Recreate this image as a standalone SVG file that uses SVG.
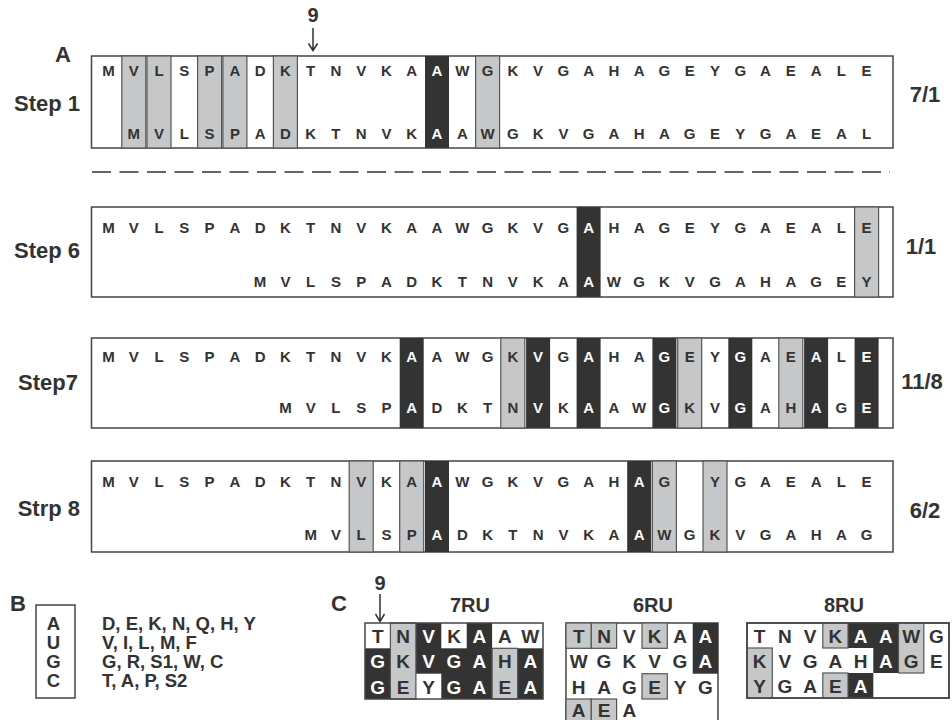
<svg xmlns="http://www.w3.org/2000/svg" width="952" height="720" viewBox="0 0 952 720">
<style>
text{font-family:"Liberation Sans",Arial,sans-serif;font-weight:bold;fill:#333}
.seq{font-size:15px;text-anchor:middle}
.w{fill:#fff}
.box{fill:#fff;stroke:#444;stroke-width:1.5}
.frame{fill:none;stroke:#444;stroke-width:1.5}
.g{fill:#c6c7c8;stroke:#555;stroke-width:1.2}
.k{fill:#333}
.lbl{font-size:22px}
.ratio{font-size:22px;text-anchor:middle}
.cell{font-size:19px;text-anchor:middle}
.ttl{font-size:20px;text-anchor:middle}
.leg{font-size:18.5px}
.arr{fill:none;stroke:#333;stroke-width:1.5}
</style>
<rect width="952" height="720" fill="#fff"/>

<text class="lbl" x="55" y="62" font-size="21">A</text>

<g id="connectors">
<path class="arr" d="M313,28 V50 M308.5,43.5 L313,50.5 L317.5,43.5"/>
<path class="arr" d="M380,594 V621 M375.5,614 L380,621.5 L384.5,614"/>
<line x1="92" y1="172" x2="890" y2="172" stroke="#333" stroke-width="1.5" stroke-dasharray="19 8.5"/>
</g>
<text class="ttl" x="313" y="22" font-size="18">9</text>
<text class="ttl" x="380" y="590" font-size="18">9</text>

<g id="step1">
<rect class="box" x="91.5" y="56" width="801.5" height="92"/>
<rect class="g" x="121.8" y="56" width="24" height="92"/>
<rect class="g" x="147" y="56" width="24" height="92"/>
<rect class="g" x="197.6" y="56" width="24" height="92"/>
<rect class="g" x="222.9" y="56" width="24" height="92"/>
<rect class="g" x="273.4" y="56" width="24" height="92"/>
<rect class="g" x="475.6" y="56" width="24" height="92"/>
<rect class="k" x="425" y="56" width="24" height="92"/>
<text class="seq" y="76"><tspan x="108.5 133.8 159 184.3 209.6 234.9 260.1 285.4 310.7 335.9 361.2 386.5 411.7">MVLSPADKTNVKA</tspan><tspan class="w" x="437">A</tspan><tspan x="462.3 487.6 512.8 538.1 563.4 588.6 613.9 639.2 664.4 689.7 715 740.3 765.5 790.8 816.1 841.3 866.6">WGKVGAHAGEYGAEALE</tspan></text>
<text class="seq" y="139"><tspan x="133.8 159 184.3 209.6 234.9 260.1 285.4 310.7 335.9 361.2 386.5 411.7">MVLSPADKTNVK</tspan><tspan class="w" x="437">A</tspan><tspan x="462.3 487.6 512.8 538.1 563.4 588.6 613.9 639.2 664.4 689.7 715 740.3 765.5 790.8 816.1 841.3 866.6">AWGKVGAHAGEYGAEAL</tspan></text>
<text class="lbl" x="80" y="111" text-anchor="end">Step 1</text>
<text class="ratio" x="925" y="102">7/1</text>
</g>

<g id="step6">
<rect class="box" x="91.5" y="207" width="801.5" height="90"/>
<rect class="k" x="576.6" y="207" width="24" height="90"/>
<rect class="g" x="854.6" y="207" width="24" height="90"/>
<text class="seq" y="233"><tspan x="108.5 133.8 159 184.3 209.6 234.9 260.1 285.4 310.7 335.9 361.2 386.5 411.7 437 462.3 487.6 512.8 538.1 563.4">MVLSPADKTNVKAAWGKVG</tspan><tspan class="w" x="588.6">A</tspan><tspan x="613.9 639.2 664.4 689.7 715 740.3 765.5 790.8 816.1 841.3 866.6">HAGEYGAEALE</tspan></text>
<text class="seq" y="287"><tspan x="260.1 285.4 310.7 335.9 361.2 386.5 411.7 437 462.3 487.6 512.8 538.1 563.4">MVLSPADKTNVKA</tspan><tspan class="w" x="588.6">A</tspan><tspan x="613.9 639.2 664.4 689.7 715 740.3 765.5 790.8 816.1 841.3 866.6">WGKVGAHAGEY</tspan></text>
<text class="lbl" x="80" y="258" text-anchor="end">Step 6</text>
<text class="ratio" x="921" y="254">1/1</text>
</g>

<g id="step7">
<rect class="box" x="91.5" y="338" width="801.5" height="90"/>
<rect class="k" x="399.7" y="338" width="24" height="90"/>
<rect class="g" x="500.8" y="338" width="24" height="90"/>
<rect class="k" x="526.1" y="338" width="24" height="90"/>
<rect class="k" x="576.6" y="338" width="24" height="90"/>
<rect class="k" x="652.4" y="338" width="24" height="90"/>
<rect class="g" x="677.7" y="338" width="24" height="90"/>
<rect class="k" x="728.3" y="338" width="24" height="90"/>
<rect class="g" x="778.8" y="338" width="24" height="90"/>
<rect class="k" x="804.1" y="338" width="24" height="90"/>
<rect class="k" x="854.6" y="338" width="24" height="90"/>
<text class="seq" y="361.5"><tspan x="108.5 133.8 159 184.3 209.6 234.9 260.1 285.4 310.7 335.9 361.2 386.5">MVLSPADKTNVK</tspan><tspan class="w" x="411.7">A</tspan><tspan x="437 462.3 487.6 512.8">AWGK</tspan><tspan class="w" x="538.1">V</tspan><tspan x="563.4">G</tspan><tspan class="w" x="588.6">A</tspan><tspan x="613.9 639.2">HA</tspan><tspan class="w" x="664.4">G</tspan><tspan x="689.7 715">EY</tspan><tspan class="w" x="740.3">G</tspan><tspan x="765.5 790.8">AE</tspan><tspan class="w" x="816.1">A</tspan><tspan x="841.3">L</tspan><tspan class="w" x="866.6">E</tspan></text>
<text class="seq" y="412.5"><tspan x="285.4 310.7 335.9 361.2 386.5">MVLSP</tspan><tspan class="w" x="411.7">A</tspan><tspan x="437 462.3 487.6 512.8">DKTN</tspan><tspan class="w" x="538.1">V</tspan><tspan x="563.4">K</tspan><tspan class="w" x="588.6">A</tspan><tspan x="613.9 639.2">AW</tspan><tspan class="w" x="664.4">G</tspan><tspan x="689.7 715">KV</tspan><tspan class="w" x="740.3">G</tspan><tspan x="765.5 790.8">AH</tspan><tspan class="w" x="816.1">A</tspan><tspan x="841.3">G</tspan><tspan class="w" x="866.6">E</tspan></text>
<text class="lbl" x="78" y="390" text-anchor="end">Step7</text>
<text class="ratio" x="922" y="389">11/8</text>
</g>

<g id="step8">
<rect class="box" x="91.5" y="461" width="801.5" height="91"/>
<rect class="g" x="349.2" y="461" width="24" height="91"/>
<rect class="g" x="399.7" y="461" width="24" height="91"/>
<rect class="k" x="425" y="461" width="24" height="91"/>
<rect class="k" x="627.2" y="461" width="24" height="91"/>
<rect class="g" x="652.4" y="461" width="24" height="91"/>
<rect class="g" x="703" y="461" width="24" height="91"/>
<text class="seq" y="486.5"><tspan x="108.5 133.8 159 184.3 209.6 234.9 260.1 285.4 310.7 335.9 361.2 386.5 411.7">MVLSPADKTNVKA</tspan><tspan class="w" x="437">A</tspan><tspan x="462.3 487.6 512.8 538.1 563.4 588.6 613.9">WGKVGAH</tspan><tspan class="w" x="639.2">A</tspan><tspan x="664.4">G</tspan><tspan x="715 740.3 765.5 790.8 816.1 841.3 866.6">YGAEALE</tspan></text>
<text class="seq" y="539.5"><tspan x="310.7 335.9 361.2 386.5 411.7">MVLSP</tspan><tspan class="w" x="437">A</tspan><tspan x="462.3 487.6 512.8 538.1 563.4 588.6 613.9">DKTNVKA</tspan><tspan class="w" x="639.2">A</tspan><tspan x="664.4 689.7 715 740.3 765.5 790.8 816.1 841.3 866.6">WGKVGAHAG</tspan></text>
<text class="lbl" x="80" y="516" text-anchor="end">Strp 8</text>
<text class="ratio" x="925" y="518">6/2</text>
</g>

<g id="panelB">
<text class="lbl" x="10" y="611" font-size="21">B</text>
<rect class="frame" x="36" y="605" width="39" height="93"/>
<text class="leg" x="53.5" y="630" text-anchor="middle">A</text>
<text class="leg" x="53.5" y="649" text-anchor="middle">U</text>
<text class="leg" x="53.5" y="668" text-anchor="middle">G</text>
<text class="leg" x="53.5" y="687" text-anchor="middle">C</text>
<text class="leg" x="102" y="630">D, E, K, N, Q, H, Y</text>
<text class="leg" x="102" y="649">V, I, L, M, F</text>
<text class="leg" x="102" y="668">G, R, S1, W, C</text>
<text class="leg" x="102" y="687">T, A, P, S2</text>
</g>

<text class="lbl" x="331" y="611" font-size="21">C</text>

<g id="ru7">
<text class="ttl" x="470" y="612">7RU</text>
<rect class="k" x="365" y="623" width="178" height="76"/>
<rect fill="#fff" x="365" y="623" width="25.4" height="25.3"/>
<rect fill="#fff" x="441.3" y="623" width="25.4" height="25.3"/>
<rect fill="#fff" x="492.1" y="623" width="50.9" height="25.3"/>
<rect fill="#fff" x="415.9" y="673.7" width="25.4" height="25.3"/>
<rect class="g" x="390.4" y="623" width="25.5" height="76"/>
<rect class="g" x="492.1" y="648.3" width="25.5" height="50.7"/>
<rect class="frame" x="365" y="623" width="178" height="76"/>
<text class="cell" y="642.5"><tspan x="377.7 403.1">TN</tspan><tspan class="w" x="428.6">V</tspan><tspan x="454">K</tspan><tspan class="w" x="479.4">A</tspan><tspan x="504.9 530.3">AW</tspan></text>
<text class="cell" y="668"><tspan class="w" x="377.7">G</tspan><tspan x="403.1">K</tspan><tspan class="w" x="428.6 454 479.4">VGA</tspan><tspan x="504.9">H</tspan><tspan class="w" x="530.3">A</tspan></text>
<text class="cell" y="693.5"><tspan class="w" x="377.7">G</tspan><tspan x="403.1 428.6">EY</tspan><tspan class="w" x="454 479.4">GA</tspan><tspan x="504.9">E</tspan><tspan class="w" x="530.3">A</tspan></text>
</g>

<g id="ru6">
<text class="ttl" x="653" y="612">6RU</text>
<rect class="box" x="566" y="623" width="152" height="110"/>
<rect class="k" x="692.7" y="623" width="25.3" height="50.7"/>
<rect class="g" x="566" y="623" width="25.3" height="25.3"/>
<rect class="g" x="591.3" y="623" width="25.3" height="25.3"/>
<rect class="g" x="642" y="623" width="25.3" height="25.3"/>
<rect class="g" x="642" y="673.7" width="25.3" height="25.3"/>
<rect class="g" x="566" y="699" width="25.3" height="25.3"/>
<rect class="g" x="591.3" y="699" width="25.3" height="25.3"/>
<text class="cell" y="642.5"><tspan x="578.7 604 629.3 654.7 680">TNVKA</tspan><tspan class="w" x="705.3">A</tspan></text>
<text class="cell" y="668"><tspan x="578.7 604 629.3 654.7 680">WGKVG</tspan><tspan class="w" x="705.3">A</tspan></text>
<text class="cell" y="693.5" x="578.7 604 629.3 654.7 680 705.3">HAGEYG</text>
<text class="cell" y="716.5" x="578.7 604 629.3">AEA</text>
</g>

<g id="ru8">
<text class="ttl" x="844" y="612">8RU</text>
<rect class="box" x="747" y="623" width="202" height="75"/>
<rect class="k" x="848" y="623" width="50.5" height="25"/>
<rect class="k" x="873.3" y="648" width="25.3" height="25"/>
<rect class="k" x="848" y="673" width="25.3" height="25"/>
<rect class="g" x="822.8" y="623" width="25.2" height="25"/>
<rect class="g" x="898.5" y="623" width="25.3" height="50"/>
<rect class="g" x="747" y="648" width="25.3" height="50"/>
<rect class="g" x="822.8" y="673" width="25.2" height="25"/>
<rect class="frame" x="747" y="623" width="202" height="75"/>
<text class="cell" y="642.5"><tspan x="759.6 784.9 810.1 835.4">TNVK</tspan><tspan class="w" x="860.6 885.9">AA</tspan><tspan x="911.1 936.4">WG</tspan></text>
<text class="cell" y="667.5"><tspan x="759.6 784.9 810.1 835.4 860.6">KVGAH</tspan><tspan class="w" x="885.9">A</tspan><tspan x="911.1 936.4">GE</tspan></text>
<text class="cell" y="692.5"><tspan x="759.6 784.9 810.1 835.4">YGAE</tspan><tspan class="w" x="860.6">A</tspan></text>
</g>
</svg>
